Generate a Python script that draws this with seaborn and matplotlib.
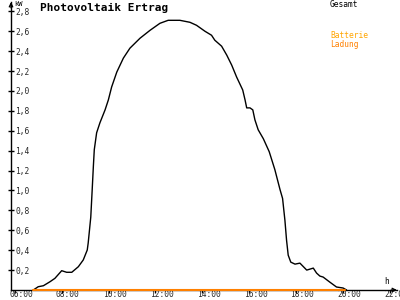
import matplotlib
matplotlib.use("Agg")
import matplotlib.pyplot as plt
import matplotlib.transforms as mtransforms
import numpy as np
import pandas as pd
import seaborn as sns

# ---- data ----
hours = [6.79, 7.00, 7.22, 7.50, 7.71, 8.00, 8.21, 8.43, 8.71, 8.92, 9.09, 9.13,
         9.24, 9.30, 9.35, 9.39, 9.49, 9.63, 9.85, 9.99, 10.13, 10.35, 10.63,
         10.91, 11.34, 11.77, 12.19, 12.54, 13.04, 13.47, 13.75, 14.11, 14.39,
         14.53, 14.82, 15.04, 15.25, 15.46, 15.72, 15.82, 15.89, 16.03, 16.15,
         16.24, 16.38, 16.60, 16.85, 17.09, 17.31, 17.42, 17.52, 17.59, 17.66,
         17.77, 17.95, 18.16, 18.45, 18.59, 18.73, 18.87, 19.01, 19.15, 19.43,
         19.72, 20.00, 20.15]
gesamt_kw = [0.00, 0.033, 0.043, 0.083, 0.117, 0.194, 0.178, 0.178, 0.234, 0.302,
             0.402, 0.472, 0.732, 1.005, 1.24, 1.41, 1.58, 1.68, 1.81, 1.91, 2.04,
             2.19, 2.33, 2.43, 2.53, 2.61, 2.68, 2.71, 2.71, 2.69, 2.66, 2.60, 2.56,
             2.51, 2.45, 2.36, 2.26, 2.14, 2.01, 1.91, 1.83, 1.83, 1.81, 1.71, 1.61,
             1.52, 1.39, 1.21, 1.01, 0.92, 0.70, 0.50, 0.35, 0.28, 0.26, 0.27, 0.20,
             0.21, 0.22, 0.17, 0.14, 0.13, 0.08, 0.03, 0.02, 0.0]
batterie_hours = [6.79, 20.10]
batterie_kw = [0.0, 0.0]

x_ticks = [6, 8, 10, 12, 14, 16, 18, 20, 22]
x_tick_labels = ["06:00", "08:00", "10:00", "12:00", "14:00", "16:00",
                 "18:00", "20:00", "22:00"]
y_ticks = [0.2, 0.4, 0.6, 0.8, 1.0, 1.2, 1.4, 1.6, 1.8, 2.0, 2.2, 2.4, 2.6, 2.8]
y_tick_labels = ["0,2", "0,4", "0,6", "0,8", "1,0", "1,2", "1,4", "1,6", "1,8",
                 "2,0", "2,2", "2,4", "2,6", "2,8"]

# ---- style ----
sns.set_theme(style="white")
plt.rcParams['font.family'] = ['DejaVu Sans Mono', 'DejaVu Sans']

W, H = 400, 300
fig = plt.figure(figsize=(4, 3), dpi=100)
fig.patch.set_facecolor("white")
ax = fig.add_axes([11 / W, 10 / H, 386 / W, 288 / H])
ax.set_facecolor("white")

df = pd.DataFrame({"h": hours, "kW": gesamt_kw})
sns.lineplot(data=df, x="h", y="kW", color="black", lw=1.0, ax=ax,
             estimator=None, sort=False, clip_on=False)
dfb = pd.DataFrame({"h": batterie_hours, "kW": batterie_kw})
sns.lineplot(data=dfb, x="h", y="kW", color="#FF8000", lw=1.5, ax=ax,
             estimator=None, sort=False, clip_on=False, zorder=5)

ax.set_xlim(5.838, 22.30)
ax.set_ylim(0, 2.894)
ax.set_xlabel("")
ax.set_ylabel("")

for s in ["top", "right"]:
    ax.spines[s].set_visible(False)
for s in ["left", "bottom"]:
    ax.spines[s].set_color("black")
    ax.spines[s].set_linewidth(1.0)

fs = 5.7
ax.set_yticks(y_ticks, y_tick_labels)
ax.tick_params(axis="y", direction="inout", length=4.3, width=1, color="black",
               labelsize=fs, pad=-5.4, left=True)
for lab in ax.get_yticklabels():
    lab.set_ha("left")

ax.set_xticks(x_ticks, x_tick_labels)
ax.tick_params(axis="x", direction="out", length=2.2, width=1, color="black",
               labelsize=fs, pad=-2.0, bottom=True)
off = mtransforms.ScaledTranslation(-5.7 / 100, 0, fig.dpi_scale_trans)
for lab in ax.get_xticklabels():
    lab.set_ha("left")
    lab.set_transform(lab.get_transform() + off)

# axis arrows
ax.annotate("", xy=(1, 0), xytext=(0.985, 0), xycoords="axes fraction",
            arrowprops=dict(arrowstyle="->", lw=1, color="black",
                            mutation_scale=6, shrinkA=0, shrinkB=0),
            annotation_clip=False)
ax.annotate("", xy=(0, 1), xytext=(0, 0.98), xycoords="axes fraction",
            arrowprops=dict(arrowstyle="->", lw=1, color="black",
                            mutation_scale=6, shrinkA=0, shrinkB=0),
            annotation_clip=False)

# texts
fig.text(40 / W, 1 - 7.5 / H, "Photovoltaik Ertrag", fontsize=8,
         fontweight="bold", va="center", ha="left", color="black")
fig.text(14 / W, 1 - 4.5 / H, "kW", fontsize=5, va="center", ha="left",
         color="black")
fig.text(384 / W, 1 - 281 / H, "h", fontsize=fs, va="center", ha="left",
         color="black")
fig.text(330 / W, 1 - 4.5 / H, "Gesamt", fontsize=fs, va="center", ha="left",
         color="black")
fig.text(330 / W, 1 - 35.5 / H, "Batterie", fontsize=fs, va="center",
         ha="left", color="#FFA500")
fig.text(330 / W, 1 - 44.5 / H, "Ladung", fontsize=fs, va="center",
         ha="left", color="#FF8000")

fig.savefig("out.png", dpi=100, facecolor="white")
